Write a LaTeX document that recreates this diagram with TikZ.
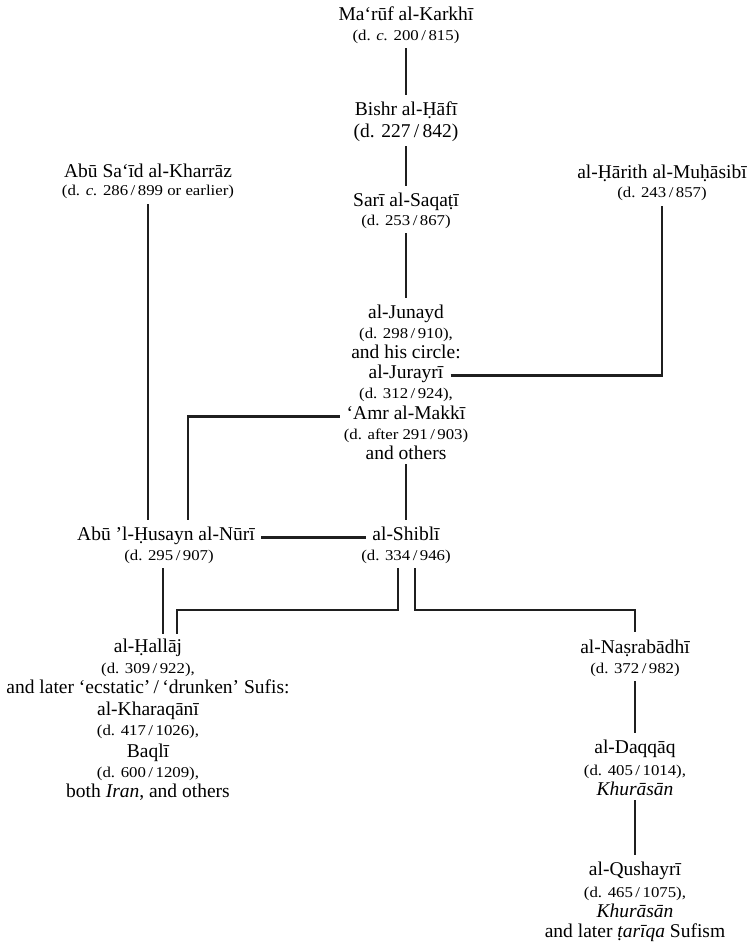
\documentclass[tikz,border=0pt]{standalone}
\usepackage{fontspec}
\setmainfont{Liberation Serif}
\newfontfamily\dtfam[FakeStretch=1.12]{Liberation Serif}
\newcommand\nmfont{\fontsize{19.5}{22}\selectfont}
\newcommand\dtfont{\dtfam\fontsize{15}{18}\selectfont}
\newcommand\dsl{\,/\,}
\begin{document}
\begin{tikzpicture}[x=1pt,y=-1pt,
  nm/.style={font=\nmfont,inner sep=0pt,anchor=base},
  dt/.style={font=\dtfont,inner sep=0pt,anchor=base},
  conn/.style={line width=2.8pt,draw=black!88}]
\path[use as bounding box] (0,0) rectangle (752,943);
% top column
\node[nm] (karkhi) at (406,20) {Ma‘rūf al-Karkhī};
\node[dt] (karkhid) at (406,40) {(d. \textit{c.} 200\dsl815)};
\node[nm] (bishr) at (406,115) {Bishr al-Ḥāfī};
\node[nm] (bishrd) at (406,137) {(d. 227\dsl842)};
\node[nm] (sari) at (406,206) {Sarī al-Saqaṭī};
\node[dt] (sarid) at (406,225) {(d. 253\dsl867)};
\node[nm] (junayd) at (406,318) {al-Junayd};
\node[dt] (junaydd) at (406,338) {(d. 298\dsl910),};
\node[nm] (circle) at (406,358) {and his circle:};
\node[nm] (jurayri) at (406,378) {al-Jurayrī};
\node[dt] (jurayrid) at (406,398) {(d. 312\dsl924),};
\node[nm] (amr) at (406,419) {‘Amr al-Makkī};
\node[dt] (amrd) at (406,439) {(d. after 291\dsl903)};
\node[nm] (others) at (406,459) {and others};
% side figures
\node[nm] (kharraz) at (148,177) {Abū Sa‘īd al-Kharrāz};
\node[dt] (kharrazd) at (148,195) {(d. \textit{c.} 286\dsl899 or earlier)};
\node[nm] (harith) at (662,178) {al-Ḥārith al-Muḥāsibī};
\node[dt] (harithd) at (662,197) {(d. 243\dsl857)};
% middle row
\node[nm] (nuri) at (166,540) {Abū ’l-Ḥusayn al-Nūrī};
\node[dt] (nurid) at (169,560) {(d. 295\dsl907)};
\node[nm] (shibli) at (406,540) {al-Shiblī};
\node[dt] (shiblid) at (406,560) {(d. 334\dsl946)};
% left bottom
\node[nm] (hallaj) at (148,652) {al-Ḥallāj};
\node[dt] (hallajd) at (148,673) {(d. 309\dsl922),};
\node[nm] (later) at (148,693) {and later ‘ecstatic’\,/\,‘drunken’ Sufis:};
\node[nm] (kharaqani) at (148,715) {al-Kharaqānī};
\node[dt] (kharaqanid) at (148,735) {(d. 417\dsl1026),};
\node[nm] (baqli) at (148,757) {Baqlī};
\node[dt] (baqlid) at (148,777) {(d. 600\dsl1209),};
\node[nm] (both) at (148,797) {both \textit{Iran}, and others};
% right bottom
\node[nm] (nasr) at (635,653) {al-Naṣrabādhī};
\node[dt] (nasrd) at (635,673) {(d. 372\dsl982)};
\node[nm] (daqqaq) at (635,753) {al-Daqqāq};
\node[dt] (daqqaqd) at (635,775) {(d. 405\dsl1014),};
\node[nm] (daqqaqk) at (635,795) {\textit{Khurāsān}};
\node[nm] (qush) at (635,875) {al-Qushayrī};
\node[dt] (qushd) at (635,897) {(d. 465\dsl1075),};
\node[nm] (qushk) at (635,917) {\textit{Khurāsān}};
\node[nm] (qushl) at (635,937) {and later \textit{ṭarīqa} Sufism};
\coordinate (fork) at (406,610);
% connectors
\draw[conn,shorten <=5pt,shorten >=6pt] (karkhid.south) -- (bishr.north);
\draw[conn,shorten <=5pt,shorten >=6pt] (bishrd.south) -- (sari.north);
\draw[conn,shorten <=5pt,shorten >=6pt] (sarid.south) -- (junayd.north);
\draw[conn,shorten <=5pt,shorten >=6pt] (others.south) -- (shibli.north);
\draw[conn,shorten <=7pt,shorten >=6pt] (jurayri.mid east) -| (harithd.south);
\draw[conn,shorten <=7pt,shorten >=6pt] (amr.mid west) -| ([xshift=22pt]nuri.north);
\draw[conn,shorten <=6pt,shorten >=6pt] (kharrazd.south) -- (kharrazd.south |- nuri.north);
\draw[conn,shorten <=6pt,shorten >=6pt] (nuri.mid east) -- (shibli.mid west);
\draw[conn,shorten <=5pt,shorten >=4pt] ([xshift=-6pt]nurid.south) -- ([xshift=-6pt]nurid.south |- hallaj.north);
\draw[conn,shorten <=5pt,shorten >=4pt] ([xshift=-8pt]shiblid.south) |- ([xshift=29pt]hallaj.north |- fork) -- ([xshift=29pt]hallaj.north);
\draw[conn,shorten <=5pt,shorten >=7pt] ([xshift=9pt]shiblid.south) |- (nasr.north |- fork) -- (nasr.north);
\draw[conn,shorten <=5pt,shorten >=6pt] (nasrd.south) -- (daqqaq.north);
\draw[conn,shorten <=5pt,shorten >=6pt] (daqqaqk.south) -- (qush.north);
\end{tikzpicture}
\end{document}
